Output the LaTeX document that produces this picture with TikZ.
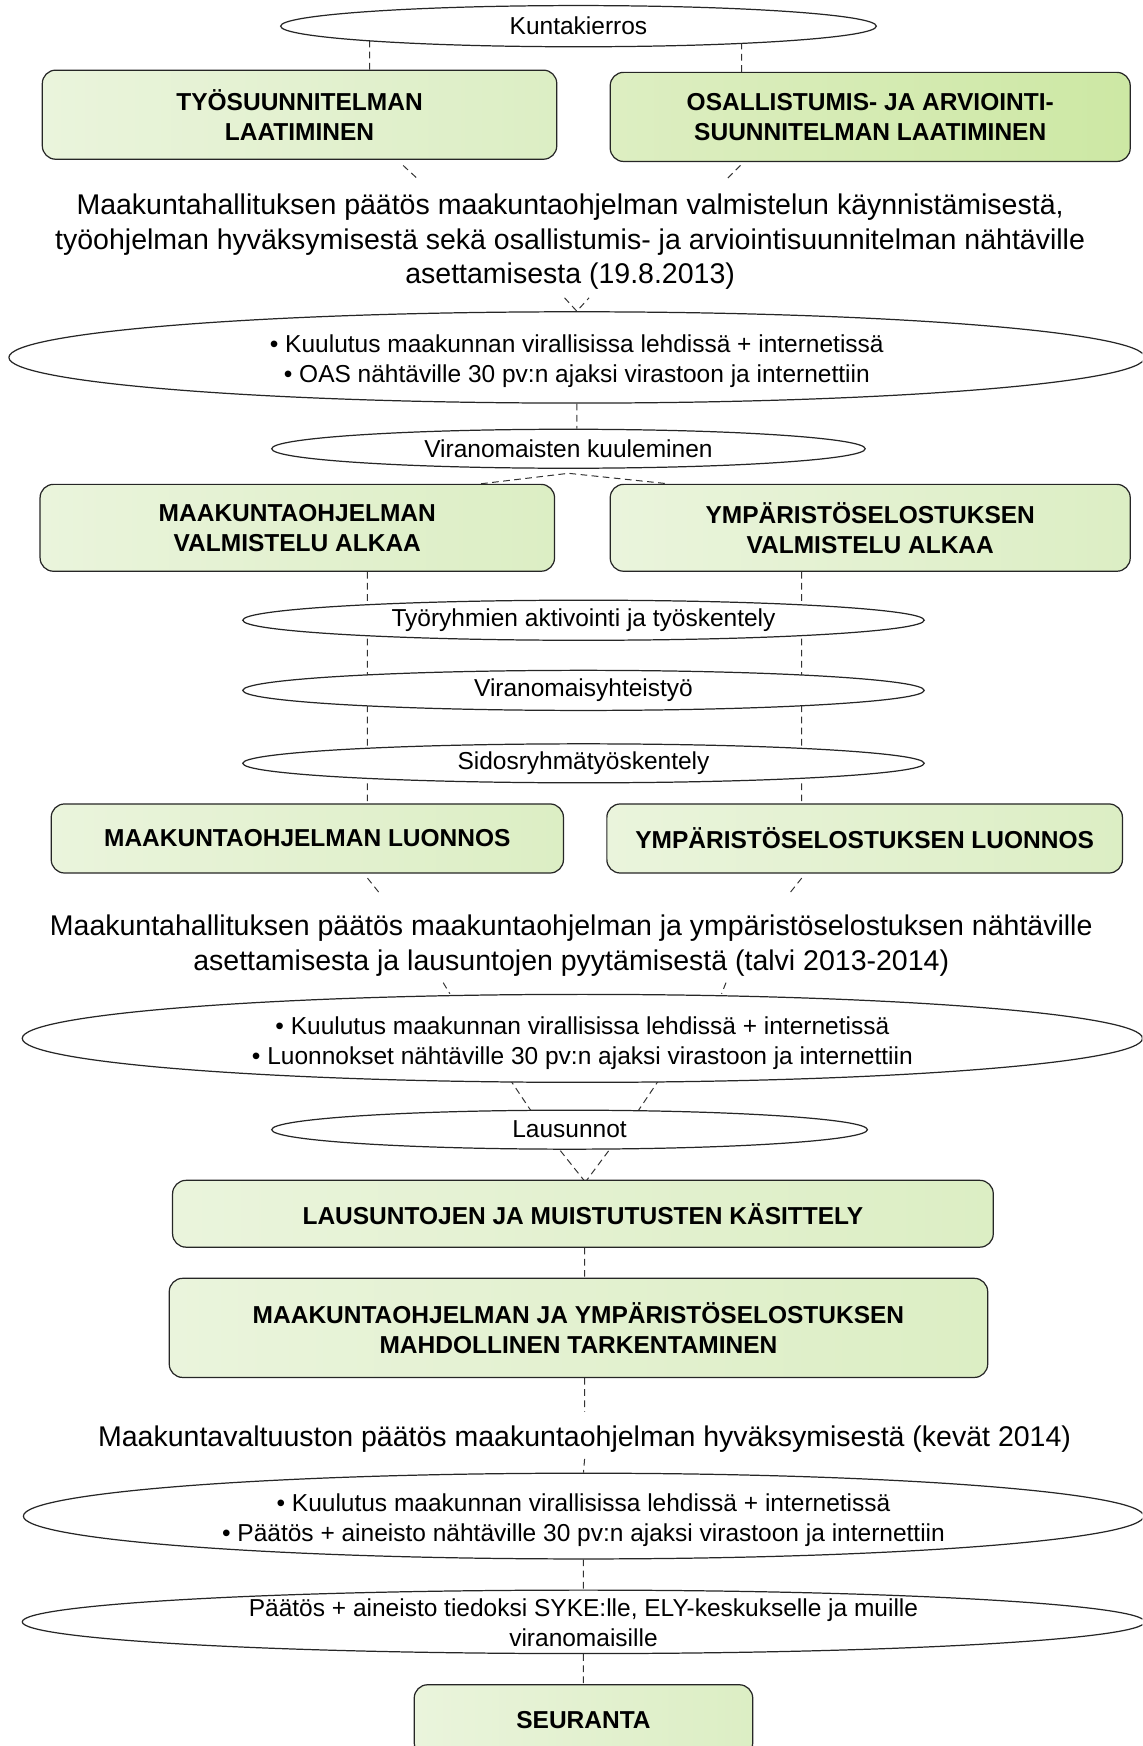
\documentclass[tikz,border=0pt]{standalone}
\usepackage{fontspec}
\setmainfont{Liberation Sans}
\usetikzlibrary{shapes,backgrounds,calc}
\definecolor{paleL}{HTML}{EAF4DC}
\definecolor{paleR}{HTML}{DCEEC4}
\definecolor{leafL}{HTML}{DDEEC2}
\definecolor{leafR}{HTML}{CDE8A4}
\tikzset{
	phase/.style={draw=black!85, line width=1.1pt, rounded corners=12pt, left color=paleL, right color=paleR,
		font=\fontsize{22}{27}\selectfont\bfseries, align=center, inner sep=0pt},
	event/.style={ellipse, draw=black!85, line width=1.1pt, fill=white, inner sep=0pt,
		font=\fontsize{22}{27}\selectfont, align=center},
	evtext/.style={font=\fontsize{22}{27}\selectfont, align=center, inner sep=0pt, yshift=-3pt},
	decision/.style={font=\fontsize{25.6}{31}\selectfont, align=center, inner sep=0pt},
	link/.style={draw=black!80, line width=0.9pt, dash pattern=on 6pt off 4pt},
}
\begin{document}
\begin{tikzpicture}[x=1pt, y=-1pt]
	\useasboundingbox (0,0) rectangle (1026,1568);
	\clip (0,0) rectangle (1026,1568);
	% start
	\node[event, minimum width=535pt, minimum height=37pt] (kunta) at (519.5,23.5) {Kuntakierros};
	\node[phase, minimum width=462pt, minimum height=80pt] (tyo) at (269,103) {TYÖSUUNNITELMAN\\LAATIMINEN};
	\node[phase, left color=leafL, right color=leafR, minimum width=467pt, minimum height=80pt] (oas) at (781.5,105) {OSALLISTUMIS- JA ARVIOINTI-\\SUUNNITELMAN LAATIMINEN};
	\node[decision] (dec1) at (512,217) {Maakuntahallituksen päätös maakuntaohjelman valmistelun käynnistämisestä,\\työohjelman hyväksymisestä sekä osallistumis- ja arviointisuunnitelman nähtäville\\asettamisesta (19.8.2013)};
	\node[event, minimum width=1020pt, minimum height=82pt,
		label={[evtext]center:{• Kuulutus maakunnan virallisissa lehdissä + internetissä\\• OAS nähtäville 30 pv:n ajaksi virastoon ja internettiin}}] (kuul1) at (518,321) {};
	\node[event, minimum width=533pt, minimum height=35pt] (viran) at (510.5,403) {Viranomaisten kuuleminen};
	% preparation
	\node[phase, minimum width=462pt, minimum height=78pt] (mv) at (267,474) {MAAKUNTAOHJELMAN\\VALMISTELU ALKAA};
	\node[phase, minimum width=467pt, minimum height=78pt] (yv) at (781.5,474) {YMPÄRISTÖSELOSTUKSEN\\VALMISTELU ALKAA};
	\node[event, minimum width=612pt, minimum height=36pt] (tyor) at (524,557) {Työryhmien aktivointi ja työskentely};
	\node[event, minimum width=612pt, minimum height=36pt] (vyht) at (524,620) {Viranomaisyhteistyö};
	\node[event, minimum width=612pt, minimum height=35pt] (sidos) at (524,685.5) {Sidosryhmätyöskentely};
	\node[phase, minimum width=460pt, minimum height=62pt] (ml) at (276,753) {MAAKUNTAOHJELMAN LUONNOS};
	\node[phase, minimum width=463pt, minimum height=62pt] (yl) at (776.5,753) {YMPÄRISTÖSELOSTUKSEN LUONNOS};
	% drafts on display
	\node[decision] (dec2) at (513,849) {Maakuntahallituksen päätös maakuntaohjelman ja ympäristöselostuksen nähtäville\\asettamisesta ja lausuntojen pyytämisestä (talvi 2013-2014)};
	\node[event, minimum width=1006pt, minimum height=79pt,
		label={[evtext, yshift=-1pt]center:{• Kuulutus maakunnan virallisissa lehdissä + internetissä\\• Luonnokset nähtäville 30 pv:n ajaksi virastoon ja internettiin}}] (kuul2) at (523,932.5) {};
	\node[event, minimum width=535pt, minimum height=35pt] (laus) at (511.5,1014.5) {Lausunnot};
	\node[phase, minimum width=737pt, minimum height=60pt] (kas) at (523.5,1090) {LAUSUNTOJEN JA MUISTUTUSTEN KÄSITTELY};
	\node[phase, minimum width=735pt, minimum height=89pt] (tark) at (519.5,1192.5) {MAAKUNTAOHJELMAN JA YMPÄRISTÖSELOSTUKSEN\\MAHDOLLINEN TARKENTAMINEN};
	% approval
	\node[decision] (dec3) at (525,1292) {Maakuntavaltuuston päätös maakuntaohjelman hyväksymisestä (kevät 2014)};
	\node[event, minimum width=1006pt, minimum height=77pt,
		label={[evtext, yshift=-1pt]center:{• Kuulutus maakunnan virallisissa lehdissä + internetissä\\• Päätös + aineisto nähtäville 30 pv:n ajaksi virastoon ja internettiin}}] (kuul3) at (524,1361.5) {};
	\node[event, minimum width=1008pt, minimum height=57pt,
		label={[evtext, yshift=2pt]center:{Päätös + aineisto tiedoksi SYKE:lle, ELY-keskukselle ja muille\\viranomaisille}}] (tied) at (524,1456.5) {};
	\node[phase, minimum width=304pt, minimum height=64pt] (seur) at (524,1545) {SEURANTA};

	\begin{scope}[on background layer]
		\draw[link]
			($(tyo.north)+(63,0)$) -- ($(kunta.center)+(-187.5,0)$)
			($(oas.north)+(-115.5,0)$) -- ($(kunta.center)+(146.5,0)$)
			($(tyo.south)+(93,5)$) -- ++(13,12)
			($(oas.south)+(-116.5,3)$) -- ++(-12,12)
			($(kuul1.north)+(-11,-12)$) -- (kuul1.north) -- ($(kuul1.north)+(11,-12)$)
			(kuul1.south) -- (kuul1.south |- viran.north)
			($(mv.north)+(165,0)$) -- ($(viran.south)+(0,4)$) -- ($(yv.north)+(-181.5,0)$)
			($(mv.south)+(63,0)$) -- ($(ml.north)+(54,0)$)
			($(yv.south)+(-61.5,0)$) -- ($(yl.north)+(-56.5,0)$)
			($(ml.south)+(54,4)$) -- ++(12,15)
			($(yl.south)+(-56.5,4)$) -- ++(-12,15)
			($(kuul2.north)+(-125,-10)$) -- ++(6,10)
			($(kuul2.north)+(129,-10)$) -- ++(-4,10)
			($(kuul2.south)+(-71,-12)$) -- ($(laus.north)+(-30,8)$)
			($(kuul2.south)+(75,-12)$) -- ($(laus.north)+(57,8)$)
			($(laus.south)+(-14.5,-7)$) -- ($(kas.north)+(4.5,5)$)
			($(laus.south)+(41,-7)$) -- ($(kas.north)+(0,5)$)
			($(kas.south)+(1.5,0)$) -- ($(tark.north)+(5.5,0)$)
			($(tark.south)+(5.5,0)$) -- ($(dec3.north)+(0,-12)$)
			($(dec3.south)+(0,6)$) -- (kuul3.north)
			(kuul3.south) -- (tied.north)
			(tied.south) -- (seur.north);
	\end{scope}
\end{tikzpicture}
\end{document}
